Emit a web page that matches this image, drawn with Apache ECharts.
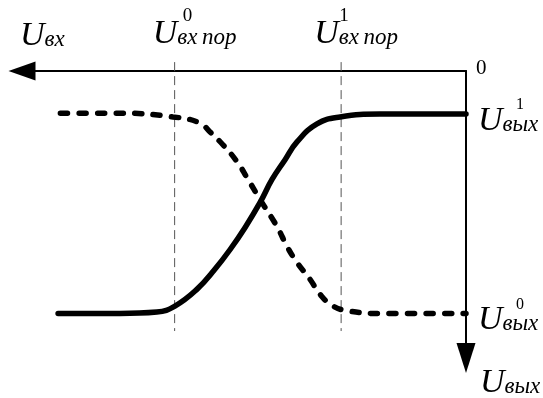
<!DOCTYPE html>
<html>
<head>
<meta charset="utf-8">
<script src="https://cdn.jsdelivr.net/npm/echarts@6/dist/echarts.min.js"></script>
<style>
  html, body { margin: 0; padding: 0; background: #fff; }
  #chart { width: 543px; height: 398px; }
</style>
</head>
<body>
<div id="chart"></div>
<script>
// Transfer characteristics of an inverting / non-inverting logic element.
// Input voltage grows to the left, output voltage grows downward.

// input axis (arbitrary units)
const inputMax = 16;
const outputMax = 10;

// input thresholds: U_вх пор^0 and U_вх пор^1
const thresholds = [10.5, 4.5];
const thresholdSup = ['0', '1'];

// output levels: U_вых^1 and U_вых^0
const levels = [1.5, 8.45];
const levelSup = ['1', '0'];

// non-inverting characteristic (solid)
const directX = [0, 3.1, 4.54, 5.37, 6.09, 6.52, 6.99, 7.42, 7.96, 8.5, 9.05, 9.69, 10.49, 11.14, 12.47, 14.7];
const directY = [1.5, 1.5, 1.6, 1.84, 2.47, 3.09, 3.78, 4.58, 5.45, 6.22, 6.91, 7.6, 8.19, 8.4, 8.45, 8.45];

// inverting characteristic (dashed)
const invertX = [0, 3.1, 4.18, 4.79, 5.26, 5.62, 6.09, 6.45, 6.81, 7.42, 7.89, 8.25, 8.76, 9.23, 9.59, 10.56, 12.47, 14.74];
const invertY = [8.45, 8.45, 8.37, 8.19, 7.78, 7.26, 6.67, 6.11, 5.42, 4.48, 3.72, 3.16, 2.57, 2.12, 1.81, 1.6, 1.47, 1.47];

// vertical extent of the threshold guides
const guideSpan = [-0.31, 9.06];

const zip = (xs, ys) => xs.map((x, i) => [x, ys[i]]);

const serif = 'Liberation Serif';
const rich = {
  u: { fontFamily: serif, fontStyle: 'italic', fontSize: 34, color: '#000', verticalAlign: 'bottom' },
  s: { fontFamily: serif, fontStyle: 'italic', fontSize: 23, color: '#000', verticalAlign: 'bottom', padding: [0, 0, 2, 0] }
};

const chart = echarts.init(document.getElementById('chart'), null, { renderer: 'canvas' });

const guideSeries = thresholds.map(t => ({
  type: 'line', data: [[t, guideSpan[0]], [t, guideSpan[1]]], symbol: 'none', clip: false,
  silent: true, z: 1,
  lineStyle: { color: '#555', width: 1, type: [9, 5] }
}));

chart.setOption({
  animation: false,
  backgroundColor: '#fff',
  grid: { left: 22, right: 77, top: 71, bottom: 40, containLabel: false },
  xAxis: {
    type: 'value', min: 0, max: inputMax, inverse: true, position: 'top',
    axisLine: {
      show: true, onZero: false,
      symbol: ['triangle', 'none'], symbolSize: [19, 27],
      lineStyle: { color: '#000', width: 2 }
    },
    axisTick: { show: false }, axisLabel: { show: false }, splitLine: { show: false }
  },
  yAxis: {
    type: 'value', min: 0, max: outputMax, inverse: true, position: 'right',
    axisLine: {
      show: true, onZero: false,
      symbol: ['triangle', 'none'], symbolSize: [19, 30],
      lineStyle: { color: '#000', width: 2 }
    },
    axisTick: { show: false }, axisLabel: { show: false }, splitLine: { show: false }
  },
  series: guideSeries.concat([
    {
      type: 'line', data: zip(directX, directY), smooth: 0.45,
      symbol: 'none', clip: false, z: 3,
      lineStyle: { color: '#000', width: 5.5, cap: 'round', join: 'round' }
    },
    {
      type: 'line', data: zip(invertX, invertY), smooth: 0.45,
      symbol: 'none', clip: false, z: 3,
      lineStyle: { color: '#000', width: 5.5, cap: 'round', type: [7, 11.5], dashOffset: 4 }
    }
  ])
});

// annotations anchored to the axes
const px = (x, y) => chart.convertToPixel({ xAxisIndex: 0, yAxisIndex: 0 }, [x, y]);
const origin = px(0, 0);

function voltLabel(left, baseline, sub) {
  return {
    type: 'text', x: left, y: baseline + 7, silent: true,
    style: { text: '{u|U}{s|' + sub + '}', rich: rich, align: 'left', verticalAlign: 'bottom' }
  };
}
function digit(left, top, d, size) {
  return {
    type: 'text', x: left, y: top, silent: true,
    style: { text: d, fontFamily: serif, fontSize: size, fill: '#000', align: 'left', verticalAlign: 'top' }
  };
}

const g = [];
// input axis name
g.push(voltLabel(20, 46, 'вх'));
// threshold labels
const thrOffset = [-22, -27];
const thrSupOffset = [10, 5];
thresholds.forEach((t, i) => {
  const p = px(t, 0);
  g.push(voltLabel(p[0] + thrOffset[i], 44, 'вх\u2009пор'));
  g.push(digit(p[0] + thrOffset[i] + 20 + thrSupOffset[i], 7, thresholdSup[i], 19));
});
// origin
g.push(digit(origin[0] + 10, origin[1] - 13, '0', 21));
// output level labels
levels.forEach((l, i) => {
  const p = px(0, l);
  g.push(voltLabel(p[0] + 12, p[1] + 17, 'вых'));
  g.push(digit(p[0] + 50, p[1] - 17, levelSup[i], 16));
});
// output axis name
const yEnd = px(0, outputMax);
g.push(voltLabel(yEnd[0] + 14, 393, 'вых'));

chart.setOption({ graphic: g });
</script>
</body>
</html>
